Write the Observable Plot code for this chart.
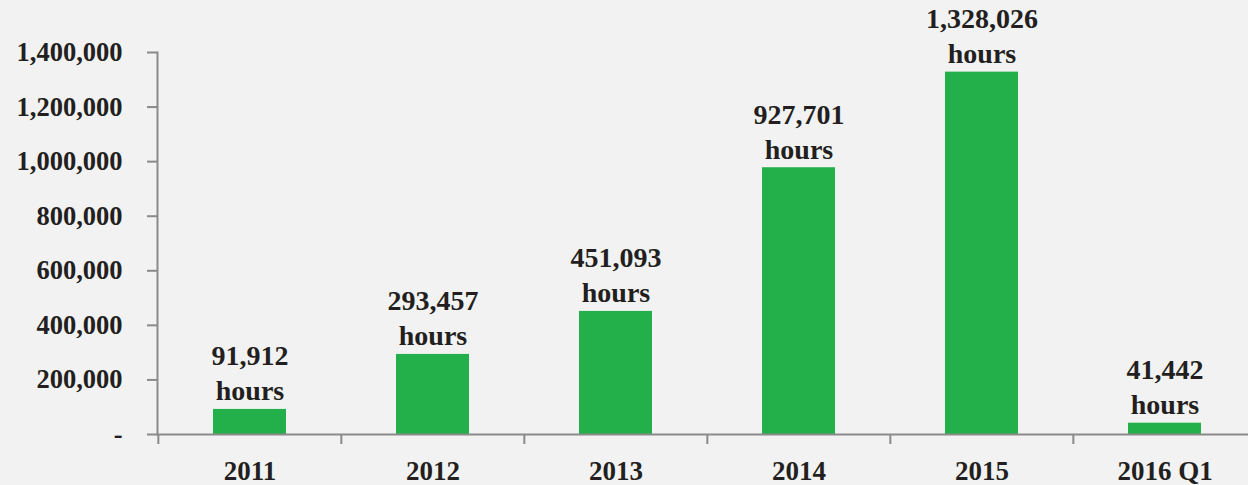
<!DOCTYPE html>
<html>
<head>
<meta charset="utf-8">
<script src="https://cdn.jsdelivr.net/npm/d3@7"></script>
<script src="https://cdn.jsdelivr.net/npm/@observablehq/plot@0.6"></script>
<style>
  html, body { margin: 0; padding: 0; background: #f2f2f2; overflow: hidden; }
  #chart svg { display: block; background: #f2f2f2; max-width: none !important; }
  #chart svg, #chart svg text { font-family: "Liberation Serif", serif; }
</style>
</head>
<body>
<div id="chart"></div>
<script>
const categories = ["2011", "2012", "2013", "2014", "2015", "2016 Q1"];
const barValues = [91912, 293457, 451093, 977701, 1328026, 41442];
const labelValues = ["91,912", "293,457", "451,093", "927,701", "1,328,026", "41,442"];
const yTicks = [0, 200000, 400000, 600000, 800000, 1000000, 1200000, 1400000];

const data = categories.map((c, i) => ({cat: c, value: barValues[i], label: labelValues[i] + "\nhours"}));

const W = 1257, H = 485, ML = 157, MR = 0;
const step = (W - ML - MR) / categories.length;

const serif = "Liberation Serif";
const axisColor = "#8a8a8a";
const textColor = "#231f20";

const chart = Plot.plot({
  width: W,
  height: H,
  marginLeft: ML,
  marginRight: MR,
  marginTop: 52,
  marginBottom: 51,
  style: {background: "#f2f2f2", color: textColor, overflow: "visible", maxWidth: "none"},
  x: {domain: categories, paddingInner: 0.6, paddingOuter: 0.3, align: 0.5},
  y: {domain: [0, 1400000]},
  marks: [
    Plot.barY(data, {x: "cat", y: "value", fill: "#23b04b"}),
    Plot.ruleY([0], {stroke: axisColor, strokeWidth: 2}),
    Plot.frame({anchor: "left", stroke: axisColor, strokeWidth: 2}),
    Plot.ruleX(categories, {x: d => d, y1: 0, y2: 0, dx: -step / 2, insetBottom: -10, stroke: axisColor, strokeWidth: 2}),
    Plot.axisY({ticks: yTicks, tickSize: 10, tickPadding: 25, stroke: axisColor, strokeWidth: 2,
      tickFormat: d => d === 0 ? "-" : d3.format(",")(d), fontSize: 26.5, fontWeight: "bold", fontFamily: serif, fill: textColor, label: null}),
    Plot.axisX({tickSize: 0, tickPadding: 26, fontSize: 27, fontWeight: "bold", fontFamily: serif, fill: textColor, label: null}),
    Plot.text(data, {x: "cat", y: "value", text: "label", lineAnchor: "bottom", dy: -9, lineHeight: 1.25,
      fontSize: 28, fontWeight: "bold", fontFamily: serif, fill: textColor})
  ]
});

document.getElementById("chart").appendChild(chart);
</script>
</body>
</html>
